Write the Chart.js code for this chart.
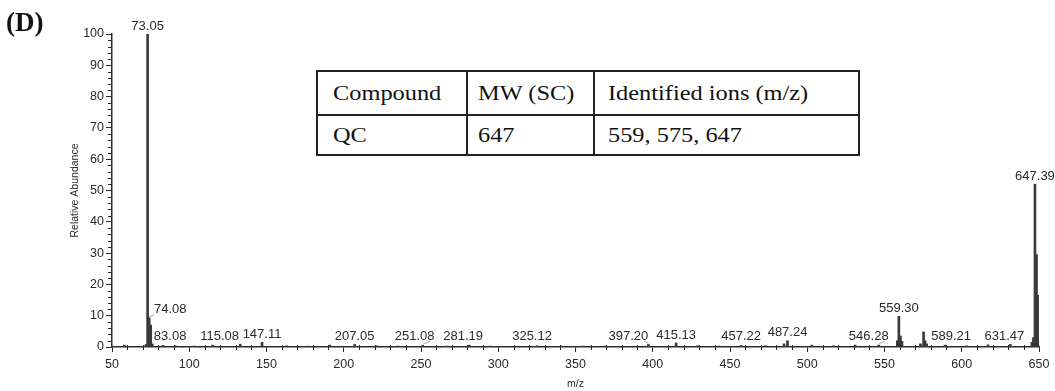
<!DOCTYPE html>
<html lang="en">
<head>
  <meta charset="UTF-8" />
  <meta name="viewport" content="width=device-width, initial-scale=1.0" />
  <title>Mass spectrum (D)</title>
  <script src="https://cdn.jsdelivr.net/npm/chart.js"></script>
  <style>
    html, body {
      margin: 0;
      padding: 0;
      background: #fff;
    }

    .wrap {
      position: relative;
      width: 1055px;
      height: 391px;
      overflow: hidden;
    }

    canvas {
      position: absolute;
      left: 0;
      top: 0;
    }

    .panel {
      position: absolute;
      left: 6px;
      top: 7px;
      font: bold 27px "Liberation Serif", serif;
      color: #111;
    }

    table {
      position: absolute;
      left: 316px;
      top: 70px;
      border-collapse: collapse;
      table-layout: fixed;
      background: #fff;
      font-family: "Liberation Serif", serif;
      font-size: 21px;
      color: #111;
    }

    td {
      border: 2px solid #222;
      padding: 0 0 0 13px;
      vertical-align: middle;
      white-space: nowrap;
      overflow: hidden;
    }

    td span {
      display: inline-block;
      transform: scaleX(1.16);
      transform-origin: left center;
    }

    tr.head td { height: 42px; }
    tr.body td { height: 38px; }
  </style>
</head>
<body>
  <div class="wrap">
    <canvas id="spectrum" width="1055" height="391"></canvas>
    <div class="panel">(D)</div>
    <table>
      <colgroup>
        <col style="width:150px" />
        <col style="width:127px" />
        <col style="width:265px" />
      </colgroup>
      <tr class="head">
        <td style="padding-left:15px"><span>Compound</span></td>
        <td style="padding-left:10px"><span>MW (SC)</span></td>
        <td><span>Identified ions (m/z)</span></td>
      </tr>
      <tr class="body">
        <td style="padding-left:15px"><span>QC</span></td>
        <td style="padding-left:10px"><span>647</span></td>
        <td><span>559, 575, 647</span></td>
      </tr>
    </table>
  </div>

  <script>
    // peaks (m/z, relative abundance %)
    const peakMz = [
      58.0, 72.0, 73.05, 74.08, 75.05, 76.05, 83.08, 91.0, 103.0, 115.08,
      133.0, 147.11, 163.0, 177.0, 191.0, 207.05, 221.0, 235.0, 251.08, 267.0,
      281.19, 295.0, 325.12, 341.0, 355.0, 369.0, 397.20, 415.13, 429.0, 443.0,
      457.22, 473.0, 485.0, 487.24, 503.0, 517.0, 531.0, 546.28, 558.3, 559.30,
      560.3, 561.3, 573.3, 575.3, 576.3, 577.3, 589.21, 603.0, 617.0, 631.47,
      645.4, 646.4, 647.39, 648.39, 649.39
    ];
    const peakAbundance = [
      0.6, 0.8, 100, 9.3, 7.0, 1.0, 0.5, 0.4, 0.3, 0.6,
      0.9, 1.5, 0.4, 0.3, 0.6, 0.8, 0.4, 0.3, 0.5, 0.3,
      0.6, 0.3, 0.4, 0.3, 0.3, 0.3, 0.8, 1.3, 0.4, 0.3,
      0.5, 0.4, 1.0, 2.0, 0.6, 0.4, 0.6, 0.6, 2.0, 9.8,
      3.5, 1.8, 1.0, 4.8, 2.0, 1.0, 0.6, 0.4, 0.7, 0.8,
      1.5, 3.0, 52, 29.5, 16.5
    ];

    // annotated peaks
    const labelMz = [
      73.05, 74.08, 83.08, 115.08, 147.11, 207.05, 251.08, 281.19, 325.12,
      397.20, 415.13, 457.22, 487.24, 546.28, 559.30, 589.21, 631.47, 647.39
    ];

    const xTicks = [50, 100, 150, 200, 250, 300, 350, 400, 450, 500, 550, 600, 650];
    const yTicks = [0, 10, 20, 30, 40, 50, 60, 70, 80, 90, 100];

    // label nudges in px, where the instrument software moved a label aside
    const labelShift = {
      "74.08": 21, "83.08": 7, "115.08": 7, "251.08": -8, "281.19": -6,
      "325.12": -5, "397.20": -20, "546.28": -10, "589.21": 6, "631.47": -6
    };

    const ink = '#2a2a2a';
    const sans = '"Liberation Sans", Arial, sans-serif';

    const peakData = peakMz.map((m, i) => ({ x: m, y: peakAbundance[i] }));

    const minorTicks = {
      id: 'minorTicks',
      afterDraw(chart) {
        const { ctx, scales: { x, y } } = chart;
        const x0 = x.getPixelForValue(50);
        const y0 = y.getPixelForValue(0);
        ctx.save();
        ctx.strokeStyle = ink;
        ctx.lineWidth = 1;
        ctx.beginPath();
        for (let v = 2; v < 100; v += 2) {
          if (v % 10 === 0) continue;
          const py = Math.round(y.getPixelForValue(v)) + 0.5;
          ctx.moveTo(x0 - 4, py);
          ctx.lineTo(x0, py);
        }
        for (let v = 60; v < 650; v += 10) {
          if (v % 50 === 0) continue;
          const px = Math.round(x.getPixelForValue(v)) + 0.5;
          ctx.moveTo(px, y0 - 2);
          ctx.lineTo(px, y0 + 3);
        }
        ctx.stroke();
        ctx.restore();
      }
    };

    const peakLabels = {
      id: 'peakLabels',
      afterDatasetsDraw(chart) {
        const { ctx, scales: { x, y } } = chart;
        const base = y.getPixelForValue(0);
        ctx.save();
        ctx.font = '13px ' + sans;
        ctx.textAlign = 'center';
        ctx.textBaseline = 'middle';
        labelMz.forEach(m => {
          const i = peakMz.indexOf(m);
          const h = peakAbundance[i];
          const key = m.toFixed(2);
          const dx = labelShift[key] || 0;
          const px = x.getPixelForValue(m);
          const top = Math.min(y.getPixelForValue(h), base - 3);
          const cy = top - 8;
          if (Math.abs(dx) >= 8) {
            ctx.strokeStyle = '#aaa';
            ctx.lineWidth = 1;
            ctx.beginPath();
            ctx.moveTo(px, y.getPixelForValue(h) - 1);
            ctx.lineTo(px + dx - Math.sign(dx) * 16, cy + 5);
            ctx.stroke();
          }
          ctx.fillStyle = ink;
          ctx.fillText(key, px + dx, cy);
        });
        ctx.restore();
      }
    };

    new Chart(document.getElementById('spectrum'), {
      type: 'bar',
      data: {
        datasets: [{
          data: peakData,
          backgroundColor: '#3a3a3a',
          barThickness: 2,
          borderWidth: 0
        }]
      },
      options: {
        responsive: false,
        animation: false,
        layout: { padding: { top: 34, right: 16, bottom: 0, left: 0 } },
        plugins: {
          legend: { display: false },
          tooltip: { enabled: false }
        },
        scales: {
          x: {
            type: 'linear',
            min: 50,
            max: 650,
            offset: false,
            afterBuildTicks: s => { s.ticks = xTicks.map(v => ({ value: v })); },
            afterFit: s => { s.height = 44; },
            ticks: {
              color: ink,
              font: { family: sans, size: 12.5 },
              padding: 5,
              maxRotation: 0
            },
            grid: {
              offset: false,
              drawOnChartArea: false,
              tickLength: 5,
              color: ink
            },
            border: { color: ink, width: 1.5 },
            title: {
              display: true,
              text: 'm/z',
              color: ink,
              font: { family: sans, size: 10.5 },
              padding: { top: 0, bottom: 1 }
            }
          },
          y: {
            min: 0,
            max: 100,
            afterBuildTicks: s => { s.ticks = yTicks.map(v => ({ value: v })); },
            afterFit: s => { s.width = 112; },
            ticks: {
              color: ink,
              font: { family: sans, size: 12.5 },
              padding: 2
            },
            grid: {
              drawOnChartArea: false,
              tickLength: 6,
              color: ink
            },
            border: { color: ink, width: 1.5 },
            title: {
              display: true,
              text: 'Relative Abundance',
              color: ink,
              font: { family: sans, size: 10.5 },
              padding: { top: 69, bottom: 0 }
            }
          }
        }
      },
      plugins: [minorTicks, peakLabels]
    });
  </script>
</body>
</html>
